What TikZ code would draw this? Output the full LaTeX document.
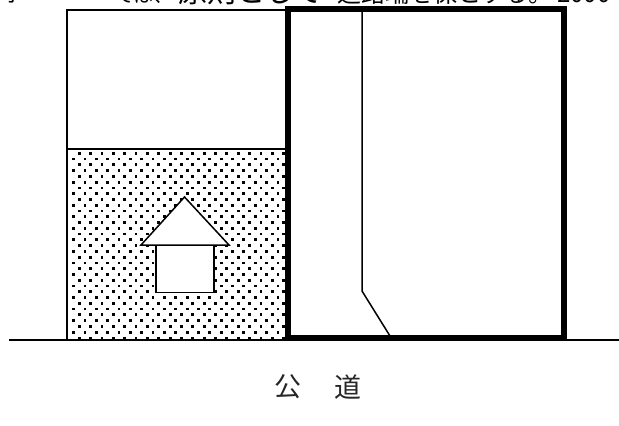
\documentclass[tikz,border=0pt]{standalone}
\usepackage{fontspec}
\newfontfamily\cjk{Noto Sans CJK JP}
\tikzset{
  thin line/.style={draw=black,line width=1.5pt},
  thick frame/.style={draw=black,line width=6pt,line join=miter},
  site/.style={draw=black,line width=1.5pt,fill=white},
  road label/.style={font=\cjk\fontsize{27}{27}\selectfont,inner sep=0pt,text=black!85},
  clipped text/.style={inner sep=0pt,anchor=base west}
}
\begin{document}
\begin{tikzpicture}[x=1pt,y=-1pt]
\useasboundingbox (0,0) rectangle (619,426);
% clipped line of text at the top edge
\node[clipped text,font=\cjk\fontsize{21}{21}\selectfont] (t0) at (2,2.5) {ホ};
\node[clipped text,font=\cjk\fontsize{20}{20}\selectfont] (t1) at (114,2.5) {ては、};
\node[clipped text,font=\cjk\fontsize{29}{29}\selectfont] (t2) at (178,2.5) {原則として};
\node[clipped text,font=\cjk\fontsize{24}{24}\selectfont] (t3) at (337,2.5) {道路端を保とする。};
\node[clipped text,font=\cjk\fontsize{24}{24}\selectfont] (t4) at (557,2.5) {2000};
% plot behind
\draw[thin line] (67,149) rectangle (286,340);
\draw[thin line] (67,149) -- (67,10) -- (286,10);
% stippled area
\foreach \r in {0,...,32}{
  \pgfmathsetmacro{\yy}{153.3+5.77*\r}
  \pgfmathsetmacro{\xs}{ifthenelse(mod(\r,2)==0,79.3,73.6)}
  \foreach \c in {0,...,18}{
    \pgfmathsetmacro{\xx}{\xs+11.35*\c}
    \pgfmathparse{\xx<284?1:0}
    \ifnum\pgfmathresult=1
      \fill[black] (\xx-1.4,\yy-1.4) rectangle (\xx+1.4,\yy+1.4);
    \fi
  }
}
% road
\coordinate (roadL) at (9,340);
\coordinate (roadR) at (619,340);
\draw[thin line] (roadL) -- (roadR);
% house
\coordinate (apex) at (184.5,197);
\coordinate (eaveL) at (141,245);
\coordinate (eaveR) at (229,245);
\draw[site] (156,245) rectangle (214,292.7);
\draw[site,line join=miter] (apex) -- (eaveR) -- (eaveL) -- cycle;
% flag-shaped lot
\coordinate (n1) at (362,12);
\coordinate (n2) at (362,291);
\coordinate (n3) at (390,336);
\draw[thin line] (n1) -- (n2) -- (n3);
\draw[thick frame] (288.2,9) rectangle (564,338);
\node[road label] (ko) at (288,387) {公};
\node[road label] (do) at (347.5,387) {道};
\end{tikzpicture}
\end{document}
